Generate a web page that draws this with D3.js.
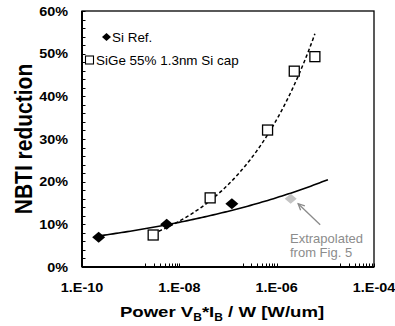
<!DOCTYPE html>
<html>
<head>
<meta charset="utf-8">
<script src="https://cdn.jsdelivr.net/npm/d3@7"></script>
<style>
  html, body { margin: 0; padding: 0; background: #fff; }
  svg { display: block; }
  text { font-family: "Liberation Sans", Arial, sans-serif; }
</style>
</head>
<body>
<svg id="chart" width="395" height="326"></svg>
<script>
// Si reference devices (measured)
const siRefPower = [2.2e-10, 5.5e-9, 1.2e-7];
const siRefReduction = [0.070, 0.100, 0.148];
// Si reference point extrapolated from Fig. 5
const siExtraPower = [1.94e-6];
const siExtraReduction = [0.160];
// SiGe 55% with 1.3nm Si cap
const sigePower = [2.9e-9, 4.3e-8, 6.5e-7, 2.3e-6, 6.1e-6];
const sigeReduction = [0.075, 0.162, 0.321, 0.459, 0.493];
// axis ticks
const xTickValues = [1e-10, 1e-8, 1e-6, 1e-4];
const xTickLabels = ["1.E-10", "1.E-08", "1.E-06", "1.E-04"];
const yTickValues = [0, 0.1, 0.2, 0.3, 0.4, 0.5, 0.6];
const yTickLabels = ["0%", "10%", "20%", "30%", "40%", "50%", "60%"];
const legendLabels = ["Si Ref.", "SiGe 55% 1.3nm Si cap"];
const siTrendEnd = 1.13e-5; // forward forecast of the Si power-law trend

const svg = d3.select("#chart");
const plot = { left: 82, right: 374, top: 11, bottom: 267 };
const stretch = 1.2; // glyphs are drawn slightly wide

const x = d3.scaleLog().domain([1e-10, 1e-4]).range([plot.left, plot.right]);
const y = d3.scaleLinear().domain([0, 0.6]).range([plot.bottom, plot.top]);

// power-law least squares fit: y = a * x^b
function powerFit(xs, ys) {
  const lx = xs.map(Math.log), ly = ys.map(Math.log);
  const mx = d3.mean(lx), my = d3.mean(ly);
  const b = d3.sum(lx, (v, i) => (v - mx) * (ly[i] - my)) / d3.sum(lx, v => (v - mx) * (v - mx));
  const a = Math.exp(my - b * mx);
  return v => a * Math.pow(v, b);
}
function sampleLog(x0, x1, n) {
  const l0 = Math.log10(x0), l1 = Math.log10(x1);
  return d3.range(n + 1).map(i => Math.pow(10, l0 + (l1 - l0) * i / n));
}

// plot frame
svg.append("rect")
  .attr("x", plot.left).attr("y", plot.top)
  .attr("width", plot.right - plot.left).attr("height", plot.bottom - plot.top)
  .attr("fill", "none").attr("stroke", "#000").attr("stroke-width", 1.3);

// y axis ticks (inside) every 2%
const yMinor = d3.range(0, 0.6001, 0.02);
svg.append("g").selectAll("line").data(yMinor).join("line")
  .attr("x1", plot.left).attr("x2", plot.left + 3.5)
  .attr("y1", d => Math.round(y(d)) + 0.5).attr("y2", d => Math.round(y(d)) + 0.5)
  .attr("stroke", "#000").attr("stroke-width", 1);
svg.append("line")
  .attr("x1", plot.left).attr("x2", plot.left)
  .attr("y1", plot.top).attr("y2", plot.bottom)
  .attr("stroke", "#000").attr("stroke-width", 2);

// x axis minor ticks (inside)
const xMinor = [];
[1e-9, 1e-7, 1e-5].forEach(base => { for (let k = 2; k <= 10; k++) xMinor.push(base * k); });
svg.append("g").selectAll("line").data(xMinor).join("line")
  .attr("x1", d => Math.round(x(d)) + 0.5).attr("x2", d => Math.round(x(d)) + 0.5)
  .attr("y1", plot.bottom).attr("y2", plot.bottom - 3.5)
  .attr("stroke", "#000").attr("stroke-width", 1);
svg.append("line")
  .attr("x1", plot.left).attr("x2", plot.right)
  .attr("y1", plot.bottom).attr("y2", plot.bottom)
  .attr("stroke", "#000").attr("stroke-width", 2);

// tick labels
svg.append("g").selectAll("text").data(yTickValues).join("text")
  .attr("transform", d => `translate(68,${y(d) + 4.5}) scale(${stretch},1)`)
  .attr("text-anchor", "end")
  .attr("font-size", 12).attr("font-weight", "bold").attr("fill", "#000")
  .text((d, i) => yTickLabels[i]);
svg.append("g").selectAll("text").data(xTickValues).join("text")
  .attr("transform", d => `translate(${x(d)},292) scale(${stretch},1)`)
  .attr("text-anchor", "middle")
  .attr("font-size", 12).attr("font-weight", "bold").attr("fill", "#000")
  .text((d, i) => xTickLabels[i]);

// axis titles
svg.append("text")
  .attr("transform", `translate(32,139) scale(1.12,1) rotate(-90)`)
  .attr("text-anchor", "middle")
  .attr("font-size", 21).attr("font-weight", "bold").attr("fill", "#000")
  .text("NBTI reduction");

const xTitle = svg.append("text")
  .attr("transform", `translate(222,317) scale(${stretch},1)`)
  .attr("text-anchor", "middle")
  .attr("font-size", 15.5).attr("font-weight", "bold").attr("fill", "#000");
xTitle.append("tspan").text("Power V");
xTitle.append("tspan").attr("font-size", 10).attr("dy", 4).text("B");
xTitle.append("tspan").attr("dy", -4).text("*I");
xTitle.append("tspan").attr("font-size", 10).attr("dy", 4).text("B");
xTitle.append("tspan").attr("dy", -4).text(" / W [W/um]");

// trend lines
const line = d3.line().x(d => x(d[0])).y(d => y(d[1]));
const siFit = powerFit(siRefPower.concat(siExtraPower), siRefReduction.concat(siExtraReduction));
const siTrend = sampleLog(d3.min(siRefPower), siTrendEnd, 80).map(v => [v, siFit(v)]);
svg.append("path").datum(siTrend).attr("d", line)
  .attr("fill", "none").attr("stroke", "#000").attr("stroke-width", 1.6);

const sigeFit = powerFit(sigePower, sigeReduction);
const sigeTrend = sampleLog(d3.min(sigePower), d3.max(sigePower), 80).map(v => [v, sigeFit(v)]);
svg.append("path").datum(sigeTrend).attr("d", line)
  .attr("fill", "none").attr("stroke", "#000").attr("stroke-width", 1.5)
  .attr("stroke-dasharray", "3.5,2.5");

// markers
function diamond(cx, cy, w, h) {
  return `M${cx},${cy - h / 2}L${cx + w / 2},${cy}L${cx},${cy + h / 2}L${cx - w / 2},${cy}Z`;
}
svg.append("g").selectAll("path").data(siRefPower).join("path")
  .attr("d", (d, i) => diamond(x(d), y(siRefReduction[i]), 13, 11))
  .attr("fill", "#000");
svg.append("g").selectAll("path").data(siExtraPower).join("path")
  .attr("d", (d, i) => diamond(x(d), y(siExtraReduction[i]), 12, 10))
  .attr("fill", "#c4c4c4");
svg.append("g").selectAll("rect").data(sigePower).join("rect")
  .attr("x", d => x(d) - 5).attr("y", (d, i) => y(sigeReduction[i]) - 5)
  .attr("width", 10).attr("height", 10)
  .attr("fill", "#fff").attr("stroke", "#000").attr("stroke-width", 1.3);

// legend
svg.append("path").attr("d", diamond(106.5, 37, 9, 8)).attr("fill", "#000");
svg.append("rect").attr("x", 85.5).attr("y", 56).attr("width", 8).attr("height", 8)
  .attr("fill", "#fff").attr("stroke", "#000").attr("stroke-width", 1.1);
svg.append("text").attr("transform", `translate(112,41.5) scale(1.12,1)`)
  .attr("font-size", 12).attr("fill", "#000").text(legendLabels[0]);
svg.append("text").attr("transform", `translate(96,64.5) scale(1.12,1)`)
  .attr("font-size", 12).attr("fill", "#000").text(legendLabels[1]);

// annotation for the extrapolated point
const gx = x(siExtraPower[0]), gy = y(siExtraReduction[0]);
const tip = [gx + 7.5, gy + 5], tail = [gx + 29.5, gy + 26];
svg.append("line")
  .attr("x1", tail[0]).attr("y1", tail[1]).attr("x2", tip[0]).attr("y2", tip[1])
  .attr("stroke", "#8a8a8a").attr("stroke-width", 1.3);
const ang = Math.atan2(tip[1] - tail[1], tip[0] - tail[0]);
const hl = 7, spread = 0.45;
svg.append("path")
  .attr("d", `M${tip[0] - hl * Math.cos(ang - spread)},${tip[1] - hl * Math.sin(ang - spread)}` +
             `L${tip[0]},${tip[1]}` +
             `L${tip[0] - hl * Math.cos(ang + spread)},${tip[1] - hl * Math.sin(ang + spread)}`)
  .attr("fill", "none").attr("stroke", "#8a8a8a").attr("stroke-width", 1.3);
svg.append("text").attr("x", 290).attr("y", 243)
  .attr("font-size", 13).attr("fill", "#8c8c8c").text("Extrapolated");
svg.append("text").attr("x", 290).attr("y", 257)
  .attr("font-size", 13).attr("fill", "#8c8c8c").text("from Fig. 5");
</script>
</body>
</html>
